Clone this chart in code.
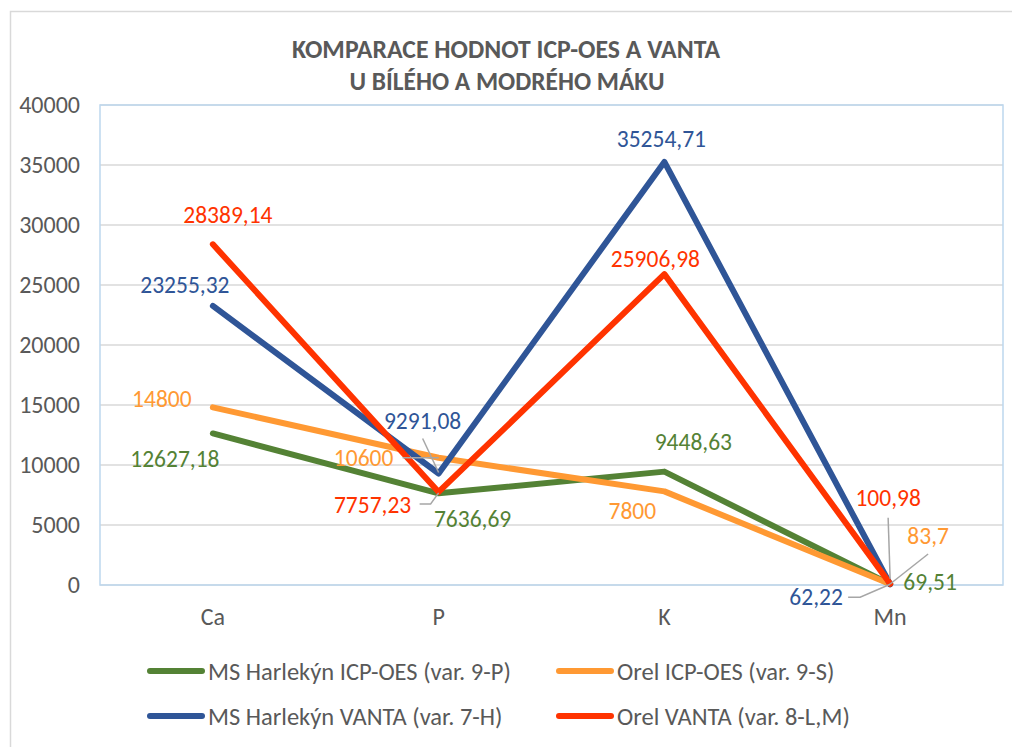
<!DOCTYPE html>
<html>
<head>
<meta charset="utf-8">
<script src="https://cdn.jsdelivr.net/npm/d3@7"></script>
<style>
  body { margin: 0; background: #fff; }
  text { font-family: Carlito, Calibri, Lato, sans-serif; }
</style>
</head>
<body>
<div id="chart"></div>
<script>
(function () {
  // categories and values
  const categories = ["Ca", "P", "K", "Mn"];
  const yTicks = [0, 5000, 10000, 15000, 20000, 25000, 30000, 35000, 40000];

  const harlekynIcp = [12627.18, 7636.69, 9448.63, 69.51];
  const orelIcp = [14800, 10600, 7800, 83.7];
  const harlekynVanta = [23255.32, 9291.08, 35254.71, 62.22];
  const orelVanta = [28389.14, 7757.23, 25906.98, 100.98];

  const seriesNames = [
    "MS Harlekýn ICP-OES (var. 9-P)",
    "Orel ICP-OES (var. 9-S)",
    "MS Harlekýn VANTA (var. 7-H)",
    "Orel VANTA (var. 8-L,M)",
  ];
  const seriesLabels = [
    ["12627,18", "7636,69", "9448,63", "69,51"],
    ["14800", "10600", "7800", "83,7"],
    ["23255,32", "9291,08", "35254,71", "62,22"],
    ["28389,14", "7757,23", "25906,98", "100,98"],
  ];

  const colors = ["#548235", "#ff9933", "#2f5597", "#ff3300"];
  const allValues = [harlekynIcp, orelIcp, harlekynVanta, orelVanta];

  // label offsets from each point (dx, dy of label centre)
  const labelOffsets = [
    [[-38, 25], [34, 25], [29, -30], [40, -2]],
    [[-51, -9], [-75, 0], [-32, 19], [38, -48]],
    [[-28, -21], [-16, -53], [-3, -23], [-74, 13]],
    [[15, -30], [-66, 13], [-9, -15], [-2, -86]],
  ];
  // leader lines: series, category, polyline points relative to the data point
  const leaders = [
    { s: 2, c: 1, pts: [[-16, -35], [0, -1]] },
    { s: 1, c: 1, pts: [[-36, 0], [0, 0]] },
    { s: 3, c: 1, pts: [[-19, 12], [-8, 12], [0, 1]] },
    { s: 3, c: 3, pts: [[-2, -66], [0, -5]] },
    { s: 1, c: 3, pts: [[38, -30], [0, 0]] },
    { s: 2, c: 3, pts: [[-42, 13], [-30, 13], [0, 0]] },
  ];

  const W = 1012;
  const H = 747;
  const plot = { left: 100, right: 1003, top: 105, bottom: 585 };

  const svg = d3
    .select("#chart")
    .append("svg")
    .attr("width", W)
    .attr("height", H);

  // chart frame
  svg
    .append("rect")
    .attr("x", 10.5)
    .attr("y", 11.5)
    .attr("width", 1010)
    .attr("height", 760)
    .attr("fill", "#fff")
    .attr("stroke", "#d9d9d9")
    .attr("stroke-width", 1.5);

  // title
  const title = svg
    .append("text")
    .attr("text-anchor", "middle")
    .attr("font-weight", "bold")
    .attr("font-size", 26)
    .attr("fill", "#595959");
  title
    .append("tspan")
    .attr("x", 506)
    .attr("y", 58)
    .attr("textLength", 428)
    .attr("lengthAdjust", "spacingAndGlyphs")
    .text("KOMPARACE HODNOT ICP-OES A VANTA");
  title
    .append("tspan")
    .attr("x", 507)
    .attr("y", 90)
    .attr("textLength", 315)
    .attr("lengthAdjust", "spacingAndGlyphs")
    .text("U BÍLÉHO A MODRÉHO MÁKU");

  const x = d3
    .scaleBand()
    .domain(categories)
    .range([plot.left, plot.right]);
  const y = d3
    .scaleLinear()
    .domain([0, 40000])
    .range([plot.bottom, plot.top]);
  const cx = (c) => x(c) + x.bandwidth() / 2;

  // gridlines
  svg
    .append("g")
    .selectAll("line")
    .data(yTicks)
    .join("line")
    .attr("x1", plot.left)
    .attr("x2", plot.right)
    .attr("y1", (d) => y(d))
    .attr("y2", (d) => y(d))
    .attr("stroke", "#d9d9d9")
    .attr("stroke-width", 1.5);

  // plot area border
  svg
    .append("rect")
    .attr("x", plot.left)
    .attr("y", plot.top)
    .attr("width", plot.right - plot.left)
    .attr("height", plot.bottom - plot.top)
    .attr("fill", "none")
    .attr("stroke", "#bdd7ee")
    .attr("stroke-width", 1.5);

  // y tick labels
  svg
    .append("g")
    .selectAll("text")
    .data(yTicks)
    .join("text")
    .attr("x", 80)
    .attr("y", (d) => y(d))
    .attr("dy", "0.35em")
    .attr("text-anchor", "end")
    .attr("font-size", 24)
    .attr("fill", "#595959")
    .text((d) => d);

  // category labels
  svg
    .append("g")
    .selectAll("text")
    .data(categories)
    .join("text")
    .attr("x", (d) => cx(d))
    .attr("y", 625)
    .attr("text-anchor", "middle")
    .attr("font-size", 24)
    .attr("fill", "#595959")
    .text((d) => d);

  // series lines
  const line = d3
    .line()
    .x((d, i) => cx(categories[i]))
    .y((d) => y(d));

  svg
    .append("g")
    .selectAll("path")
    .data(allValues)
    .join("path")
    .attr("d", (d) => line(d))
    .attr("fill", "none")
    .attr("stroke", (d, i) => colors[i])
    .attr("stroke-width", 6)
    .attr("stroke-linejoin", "round")
    .attr("stroke-linecap", "round");

  // leader lines
  svg
    .append("g")
    .selectAll("polyline")
    .data(leaders)
    .join("polyline")
    .attr("points", (d) => {
      const px = cx(categories[d.c]);
      const py = y(allValues[d.s][d.c]);
      return d.pts.map((p) => `${px + p[0]},${py + p[1]}`).join(" ");
    })
    .attr("fill", "none")
    .attr("stroke", "#a6a6a6")
    .attr("stroke-width", 1.5);

  // data labels
  const labelData = [];
  allValues.forEach((vals, s) => {
    vals.forEach((v, c) => {
      labelData.push({ s, c, v, text: seriesLabels[s][c] });
    });
  });
  svg
    .append("g")
    .selectAll("text")
    .data(labelData)
    .join("text")
    .attr("x", (d) => cx(categories[d.c]) + labelOffsets[d.s][d.c][0])
    .attr("y", (d) => y(d.v) + labelOffsets[d.s][d.c][1])
    .attr("dy", "0.35em")
    .attr("text-anchor", "middle")
    .attr("font-size", 23.5)
    .attr("fill", (d) => colors[d.s])
    .text((d) => d.text);

  // legend
  const legendPos = [
    [148, 671],
    [557, 671],
    [148, 716],
    [557, 716],
  ];
  const legend = svg
    .append("g")
    .selectAll("g")
    .data(seriesNames)
    .join("g")
    .attr("transform", (d, i) => `translate(${legendPos[i][0]}, ${legendPos[i][1]})`);
  legend
    .append("line")
    .attr("x1", 2)
    .attr("x2", 54)
    .attr("stroke", (d, i) => colors[i])
    .attr("stroke-width", 6)
    .attr("stroke-linecap", "round");
  legend
    .append("text")
    .attr("x", 60)
    .attr("dy", "0.35em")
    .attr("font-size", 24.5)
    .attr("fill", "#595959")
    .text((d) => d);
})();
</script>
</body>
</html>
